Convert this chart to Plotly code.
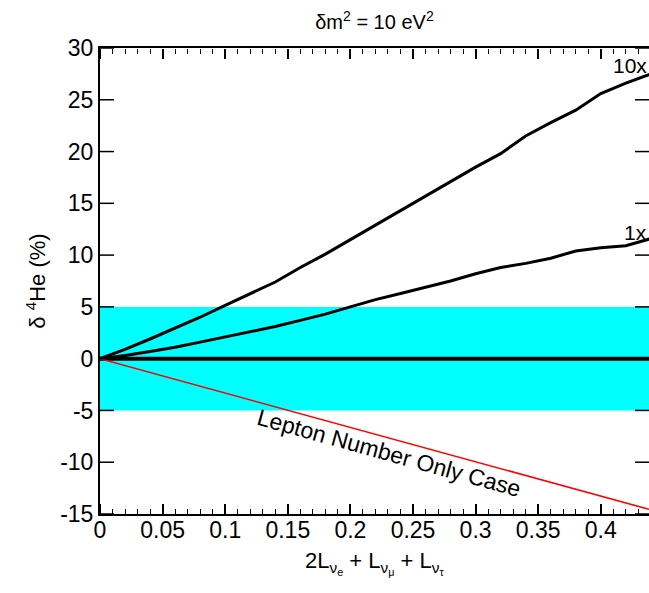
import plotly.graph_objects as go

# Data
x_vals = [0, 0.02, 0.04, 0.06, 0.08, 0.10, 0.12, 0.14, 0.16, 0.18, 0.20, 0.22,
          0.24, 0.26, 0.28, 0.30, 0.32, 0.34, 0.36, 0.38, 0.40, 0.42, 0.44]
he_10x = [0, 0.9, 1.9, 2.95, 4.0, 5.15, 6.3, 7.4, 8.8, 10.1, 11.5, 12.9,
          14.3, 15.7, 17.1, 18.5, 19.8, 21.5, 22.8, 24.0, 25.6, 26.6, 27.5]
he_1x = [0, 0.3, 0.7, 1.1, 1.6, 2.1, 2.6, 3.1, 3.7, 4.3, 5.0, 5.7,
         6.3, 6.9, 7.5, 8.2, 8.8, 9.2, 9.7, 10.4, 10.7, 10.9, 11.6]
lepton_x = [0, 0.44]
lepton_y = [0, -14.6]
zero_x = [0, 0.44]
zero_y = [0, 0]
band_lo, band_hi = -5, 5

y_tickvals = [-15, -10, -5, 0, 5, 10, 15, 20, 25, 30]
y_ticktext = ["-15", "-10", "-5", "0", "5", "10", "15", "20", "25", "30"]

X_RANGE = [0, 0.4385]
Y_RANGE = [-15, 30]
FONT = "Liberation Sans, Arial, sans-serif"

fig = go.Figure()

fig.add_shape(type="rect", xref="paper", x0=0, x1=1, yref="y", y0=band_lo, y1=band_hi,
              fillcolor="#00FFFF", line=dict(width=0), layer="below")

fig.add_trace(go.Scatter(x=zero_x, y=zero_y, mode="lines",
                         line=dict(color="black", width=4), showlegend=False))
fig.add_trace(go.Scatter(x=x_vals, y=he_10x, mode="lines",
                         line=dict(color="black", width=3), showlegend=False))
fig.add_trace(go.Scatter(x=x_vals, y=he_1x, mode="lines",
                         line=dict(color="black", width=3), showlegend=False))
fig.add_trace(go.Scatter(x=lepton_x, y=lepton_y, mode="lines",
                         line=dict(color="red", width=1.5), showlegend=False))

# inward y ticks on left and right frame edges: horizontal line markers centred on
# the edge, clipped to the plot area so only the inner half shows
for edge in (X_RANGE[0], X_RANGE[1]):
    fig.add_trace(go.Scatter(x=[edge] * len(y_tickvals), y=y_tickvals, mode="markers",
                             marker=dict(symbol="line-ew", size=20,
                                         line=dict(color="black", width=1.5)),
                             cliponaxis=True, hoverinfo="skip", showlegend=False))

# invisible helper traces so each tick-only overlay x axis gets its own subplot
for xa in ("x2", "x3"):
    fig.add_trace(go.Scatter(x=zero_x, y=zero_y, mode="lines", xaxis=xa, yaxis="y",
                             line=dict(color="rgba(0,0,0,0)", width=0), hoverinfo="skip",
                             showlegend=False))

fig.add_annotation(xref="paper", x=1.0, y=28.3, text="10x", showarrow=False, xanchor="right",
                   yanchor="middle", font=dict(size=21, color="black", family=FONT))
fig.add_annotation(xref="paper", x=1.0, y=12.2, text="1x", showarrow=False, xanchor="right",
                   yanchor="middle", font=dict(size=21, color="black", family=FONT))
fig.add_annotation(x=0.231, y=-9.1, text="Lepton Number Only Case", showarrow=False,
                   textangle=15.5, font=dict(size=23, color="black", family=FONT))
# x-axis title
fig.add_annotation(xref="paper", yref="paper", x=0.5, y=0, xanchor="center", yanchor="middle",
                   yshift=-49, showarrow=False,
                   text="2L<sub>ν<sub>e</sub></sub> + L<sub>ν<sub>μ</sub></sub> + L<sub>ν<sub>τ</sub></sub>",
                   font=dict(size=22, color="black", family=FONT))

x_ticks = dict(range=X_RANGE, tickmode="linear", tick0=0, dtick=0.05, ticks="outside",
               ticklen=10, tickwidth=1.5, tickcolor="#000000",
               showgrid=False, zeroline=False, showticklabels=False, showline=False,
               minor=dict(tickmode="linear", tick0=0, dtick=0.01, ticks="outside", ticklen=5,
                          tickwidth=1.2, tickcolor="#000000", showgrid=False))

fig.update_layout(
    template="none",
    width=649, height=593,
    margin=dict(l=100, r=0, t=48, b=79),
    paper_bgcolor="white", plot_bgcolor="white",
    font=dict(family=FONT, size=23, color="black"),
    title=dict(text="δm<sup>2</sup> = 10 eV<sup>2</sup>", x=0.577, xanchor="center",
               y=0.963, yanchor="middle", font=dict(size=20, family=FONT)),
    showlegend=False,
    xaxis=dict(
        range=X_RANGE, tickmode="linear", tick0=0, dtick=0.05, tickformat="~g",
        ticks="", showline=True, linecolor="black", linewidth=2, mirror=True,
        showgrid=False, zeroline=False, tickfont=dict(size=23),
    ),
    yaxis=dict(
        range=Y_RANGE, tickmode="array", tickvals=y_tickvals, ticktext=y_ticktext,
        ticks="", showline=True, linecolor="black", linewidth=2, mirror=True,
        showgrid=False, zeroline=False,
        title=dict(text="δ <sup>4</sup>He (%)", font=dict(size=22), standoff=8),
        tickfont=dict(size=23),
    ),
    # tick-only x axes placed on the frame edges, ticks pointing into the plot
    xaxis2=dict(overlaying="x", side="top", anchor="free", position=0, **x_ticks),
    xaxis3=dict(overlaying="x", side="bottom", anchor="free", position=1, **x_ticks),
)
try:
    fig.layout.xaxis.ticklabelstandoff = -6
except Exception:
    pass

fig.write_html("out.html")
